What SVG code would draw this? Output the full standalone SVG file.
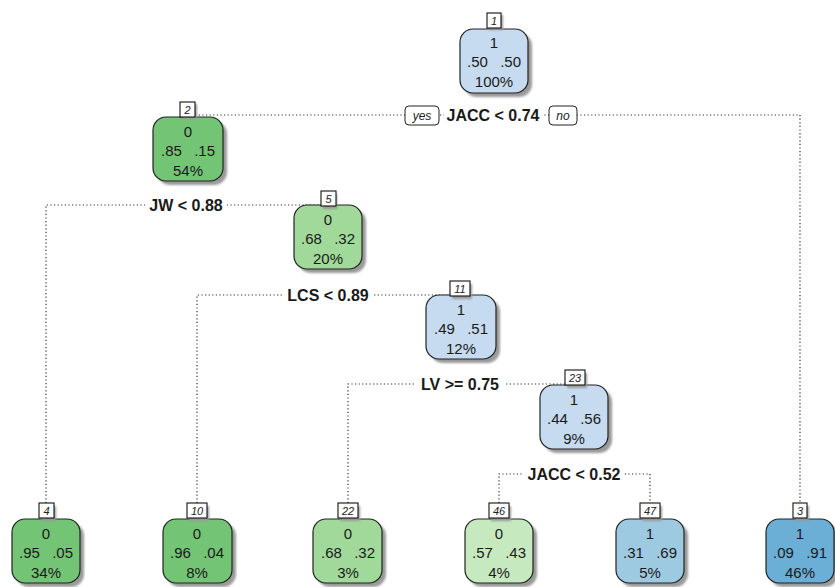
<svg xmlns="http://www.w3.org/2000/svg" width="835" height="587" viewBox="0 0 835 587">
<defs>
<filter id="blur" x="-20%" y="-20%" width="140%" height="140%"><feGaussianBlur stdDeviation="1.2"/></filter>
</defs>
<style>
.bg{fill:#ffffff}
.conn{fill:none;stroke:#333;stroke-width:1.2;stroke-dasharray:1.2 2.4}
.shadow{fill:#9a9a9a;filter:url(#blur)}
.box{stroke:#222;stroke-width:1.2}
.nbox{fill:#fff;stroke:#111;stroke-width:1.1}
.ntxt{font-family:"Liberation Sans",Arial,sans-serif;font-size:11px;font-style:italic;fill:#222;text-anchor:middle}
.t{font-family:"Liberation Sans",Arial,sans-serif;font-size:15px;fill:#1a1a1a}
.c{text-anchor:middle}
.s{text-anchor:start}
.e{text-anchor:end}
.lbl{font-family:"Liberation Sans",Arial,sans-serif;font-size:16px;font-weight:bold;fill:#1a1a1a;text-anchor:middle}
.lblbg{fill:#fff}
.yn{fill:#fff;stroke:#222;stroke-width:1}
.yntxt{font-family:"Liberation Sans",Arial,sans-serif;font-size:12px;font-style:italic;fill:#222;text-anchor:middle}
.bl1{fill:#c6dbef}.bl2{fill:#9ecae1}.bl3{fill:#6baed6}
.g1{fill:#c7e9c0}.g2{fill:#a1d99b}.g3{fill:#74c476}
</style>
<rect class="bg" x="0" y="0" width="835" height="587"/>

<g id="connectors">
<path class="conn" d="M188,115 H800 V503"/>
<path class="conn" d="M46,503 V205 H329"/>
<path class="conn" d="M197,503 V295 H461"/>
<path class="conn" d="M348,503 V384 H574"/>
<path class="conn" d="M499,503 V474 H650 V503"/>
</g>

<g id="split-labels">
<rect class="lblbg" x="444" y="106" width="98" height="19"/>
<text class="lbl" x="493" y="121">JACC &lt; 0.74</text>
<rect class="yn" x="405" y="106" width="34" height="19" rx="4"/>
<text class="yntxt" x="422" y="120">yes</text>
<rect class="yn" x="549" y="106" width="28" height="19" rx="4"/>
<text class="yntxt" x="563" y="120">no</text>
<rect class="lblbg" x="145" y="196" width="82" height="19"/>
<text class="lbl" x="186" y="211">JW &lt; 0.88</text>
<rect class="lblbg" x="284" y="286" width="89" height="19"/>
<text class="lbl" x="328" y="301">LCS &lt; 0.89</text>
<rect class="lblbg" x="416" y="375" width="88" height="19"/>
<text class="lbl" x="460" y="390">LV &gt;= 0.75</text>
<rect class="lblbg" x="524" y="465" width="100" height="19"/>
<text class="lbl" x="574" y="480">JACC &lt; 0.52</text>
</g>

<g id="node1">
<rect class="shadow" x="464" y="33" width="68" height="64" rx="13"/>
<rect class="box bl1" x="460" y="29" width="68" height="64" rx="13"/>
<rect class="shadow" x="489" y="15" width="14" height="15"/>
<rect class="nbox" x="487" y="13" width="14" height="15"/>
<text class="ntxt" x="494" y="25">1</text>
<text class="t c" x="494" y="48">1</text>
<text class="t s" x="467" y="67">.50</text><text class="t e" x="521" y="67">.50</text>
<text class="t c" x="494" y="87">100%</text>
</g>

<g id="node2">
<rect class="shadow" x="157" y="121" width="70" height="64" rx="13"/>
<rect class="box g3" x="153" y="117" width="70" height="64" rx="13"/>
<rect class="shadow" x="182" y="104" width="15" height="15"/>
<rect class="nbox" x="180" y="102" width="15" height="15"/>
<text class="ntxt" x="187.5" y="114">2</text>
<text class="t c" x="188" y="137">0</text>
<text class="t s" x="161" y="156">.85</text><text class="t e" x="215" y="156">.15</text>
<text class="t c" x="188" y="176">54%</text>
</g>

<g id="node5">
<rect class="shadow" x="298" y="209" width="68" height="64" rx="13"/>
<rect class="box g2" x="294" y="205" width="68" height="64" rx="13"/>
<rect class="shadow" x="323" y="194" width="14" height="15"/>
<rect class="nbox" x="321" y="191" width="15" height="15"/>
<text class="ntxt" x="328.5" y="203">5</text>
<text class="t c" x="328" y="225">0</text>
<text class="t s" x="301" y="244">.68</text><text class="t e" x="355" y="244">.32</text>
<text class="t c" x="328" y="264">20%</text>
</g>

<g id="node11">
<rect class="shadow" x="430" y="299" width="70" height="64" rx="13"/>
<rect class="box bl1" x="426" y="295" width="70" height="64" rx="13"/>
<rect class="shadow" x="452" y="284" width="20" height="15"/>
<rect class="nbox" x="450" y="281" width="20" height="15"/>
<text class="ntxt" x="460" y="293">11</text>
<text class="t c" x="461" y="315">1</text>
<text class="t s" x="434" y="334">.49</text><text class="t e" x="488" y="334">.51</text>
<text class="t c" x="461" y="354">12%</text>
</g>

<g id="node23">
<rect class="shadow" x="544" y="389" width="68" height="64" rx="13"/>
<rect class="box bl1" x="540" y="385" width="68" height="64" rx="13"/>
<rect class="shadow" x="567" y="373" width="20" height="15"/>
<rect class="nbox" x="565" y="370" width="20" height="15"/>
<text class="ntxt" x="575" y="382">23</text>
<text class="t c" x="574" y="405">1</text>
<text class="t s" x="547" y="424">.44</text><text class="t e" x="601" y="424">.56</text>
<text class="t c" x="574" y="444">9%</text>
</g>

<g id="node4">
<rect class="shadow" x="16" y="523" width="68" height="64" rx="13"/>
<rect class="box g3" x="12" y="519" width="68" height="64" rx="13"/>
<rect class="shadow" x="41" y="506" width="15" height="15"/>
<rect class="nbox" x="39" y="503" width="15" height="15"/>
<text class="ntxt" x="46.5" y="515">4</text>
<text class="t c" x="46" y="539">0</text>
<text class="t s" x="19" y="558">.95</text><text class="t e" x="73" y="558">.05</text>
<text class="t c" x="46" y="578">34%</text>
</g>

<g id="node10">
<rect class="shadow" x="167" y="523" width="69" height="64" rx="13"/>
<rect class="box g3" x="163" y="519" width="69" height="64" rx="13"/>
<rect class="shadow" x="189" y="506" width="20" height="15"/>
<rect class="nbox" x="187" y="503" width="20" height="15"/>
<text class="ntxt" x="197" y="515">10</text>
<text class="t c" x="197" y="539">0</text>
<text class="t s" x="170" y="558">.96</text><text class="t e" x="224" y="558">.04</text>
<text class="t c" x="197" y="578">8%</text>
</g>

<g id="node22">
<rect class="shadow" x="317" y="523" width="69" height="64" rx="13"/>
<rect class="box g2" x="313" y="519" width="69" height="64" rx="13"/>
<rect class="shadow" x="340" y="506" width="20" height="15"/>
<rect class="nbox" x="338" y="503" width="20" height="15"/>
<text class="ntxt" x="348" y="515">22</text>
<text class="t c" x="348" y="539">0</text>
<text class="t s" x="321" y="558">.68</text><text class="t e" x="375" y="558">.32</text>
<text class="t c" x="348" y="578">3%</text>
</g>

<g id="node46">
<rect class="shadow" x="469" y="523" width="68" height="64" rx="13"/>
<rect class="box g1" x="465" y="519" width="68" height="64" rx="13"/>
<rect class="shadow" x="491" y="506" width="20" height="15"/>
<rect class="nbox" x="489" y="503" width="20" height="15"/>
<text class="ntxt" x="499" y="515">46</text>
<text class="t c" x="499" y="539">0</text>
<text class="t s" x="472" y="558">.57</text><text class="t e" x="526" y="558">.43</text>
<text class="t c" x="499" y="578">4%</text>
</g>

<g id="node47">
<rect class="shadow" x="620" y="523" width="68" height="64" rx="13"/>
<rect class="box bl2" x="616" y="519" width="68" height="64" rx="13"/>
<rect class="shadow" x="642" y="506" width="20" height="15"/>
<rect class="nbox" x="640" y="503" width="20" height="15"/>
<text class="ntxt" x="650" y="515">47</text>
<text class="t c" x="650" y="539">1</text>
<text class="t s" x="623" y="558">.31</text><text class="t e" x="677" y="558">.69</text>
<text class="t c" x="650" y="578">5%</text>
</g>

<g id="node3">
<rect class="shadow" x="770" y="523" width="68" height="64" rx="13"/>
<rect class="box bl3" x="766" y="519" width="68" height="64" rx="13"/>
<rect class="shadow" x="795" y="506" width="14" height="15"/>
<rect class="nbox" x="793" y="503" width="14" height="15"/>
<text class="ntxt" x="800" y="515">3</text>
<text class="t c" x="800" y="539">1</text>
<text class="t s" x="773" y="558">.09</text><text class="t e" x="827" y="558">.91</text>
<text class="t c" x="800" y="578">46%</text>
</g>
</svg>
